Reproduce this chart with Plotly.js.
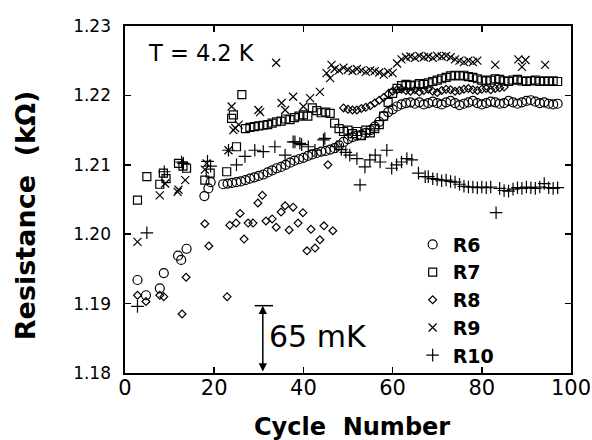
<!DOCTYPE html>
<html>
<head>
<meta charset="utf-8">
<script src="https://cdn.plot.ly/plotly-3.0.1.min.js"></script>
<style>html,body{margin:0;padding:0;background:#fff;}</style>
</head>
<body>
<div id="chart" style="width:592px;height:440px;"></div>
<script>
// ---- data ----
const seriesNames = ["R6", "R7", "R8", "R9", "R10"];

const r6x = [2.8,4.7,7.8,8.7,11.9,12.6,13.8,17.8,18.7,19.2,
  22,23,24,25,26,27,28,29,30,31,32,33,34,35,36,37,38,39,40,41,42,43,44,45,46,47,48,49,50,51,52,53,54,55,56,57,58,59,
  60,61,62,63,64,65,66,67,68,69,70,71,72,73,74,75,76,77,78,79,80,81,82,83,84,85,86,87,88,89,90,91,92,93,94,95,96,97];
const r6y = [1.1934,1.1912,1.1922,1.1944,1.1969,1.1963,1.1979,1.2055,1.2066,1.2075,
  1.2072,1.2073,1.2074,1.2075,1.2076,1.2078,1.2080,1.2082,1.2084,1.2086,1.2089,1.2092,1.2095,1.2097,1.2100,1.2103,1.2106,1.2108,
  1.2110,1.2113,1.2115,1.2117,1.2119,1.2120,1.2122,1.2124,1.2128,1.2133,1.2137,1.2140,1.2142,1.2143,1.2146,1.2150,1.2155,1.2162,
  1.2170,1.2176,1.2180,1.2184,1.2187,1.2189,1.2190,1.2188,1.2190,1.2187,1.2189,1.2191,1.2189,1.2187,1.2190,1.2192,1.2189,1.2186,
  1.2188,1.2190,1.2192,1.2189,1.2187,1.2189,1.2191,1.2190,1.2188,1.2189,1.2192,1.2190,1.2188,1.2190,1.2192,1.2193,1.2191,1.2189,
  1.2190,1.2188,1.2187,1.2188];

const r7x = [2.8,4.9,7.8,8.6,9.2,12.0,13.0,13.8,17.9,19.1,22.8,23.9,24.3,25.0,26.2,
  27,28,29,30,31,32,33,34,35,36,37,38,39,40,41,42,43,44,45,46,47,48,49,50,51,52,53,54,55,56,57,58,59,
  60,61,62,63,64,65,66,67,68,69,70,71,72,73,74,75,76,77,78,79,80,81,82,83,84,85,86,87,88,89,90,91,92,93,94,95,96,97];
const r7y = [1.2049,1.2083,1.2072,1.2088,1.2080,1.2102,1.2098,1.2095,1.2078,1.2088,1.2090,1.2167,1.2172,1.2126,1.2201,
  1.2152,1.2154,1.2155,1.2156,1.2157,1.2158,1.2160,1.2162,1.2163,1.2166,1.2165,1.2168,1.2170,1.2172,1.2170,1.2182,1.2178,1.2175,
  1.2176,1.2174,1.2160,1.2152,1.2148,1.2150,1.2145,1.2148,1.2142,1.2150,1.2146,1.2152,1.2158,1.2170,1.2190,
  1.2203,1.2210,1.2214,1.2216,1.2214,1.2215,1.2217,1.2216,1.2218,1.2220,1.2222,1.2224,1.2226,1.2228,1.2229,1.2228,1.2229,1.2227,
  1.2226,1.2224,1.2222,1.2221,1.2222,1.2224,1.2223,1.2221,1.2220,1.2222,1.2223,1.2221,1.2220,1.2221,1.2222,1.2220,1.2221,1.2220,
  1.2221,1.2220];

const r8x = [2.8,4.7,7.8,8.7,12.8,13.7,17.9,18.8,22.9,23.5,24.9,25.8,26.7,27.6,28.7,29.8,30.8,31.6,33.0,33.9,35.0,35.9,36.8,
  37.7,38.8,39.9,40.8,41.7,42.6,43.7,44.6,45.5,46.6,
  49,50,51,52,53,54,55,56,57,58,59,60,61,62,63,64,65,66,67,68,69,70,71,72,73,74,75,76,77,78,79,80,81,82,83,84,85];
const r8y = [1.1912,1.1903,1.1912,1.1910,1.1885,1.1938,1.2015,1.1983,1.1910,1.2013,1.2016,1.2030,1.1993,1.2016,1.2016,1.2045,
  1.2056,1.2019,1.2022,1.2010,1.2032,1.2041,1.2006,1.2039,1.2016,1.2031,1.1976,1.2007,1.1980,1.1992,1.2012,1.2100,1.2005,
  1.2182,1.2180,1.2179,1.2179,1.2181,1.2183,1.2185,1.2189,1.2193,1.2197,1.2202,1.2206,1.2208,1.2209,1.2207,1.2206,1.2208,1.2205,
  1.2207,1.2209,1.2206,1.2204,1.2207,1.2209,1.2208,1.2206,1.2207,1.2209,1.2210,1.2208,1.2207,1.2209,1.2210,1.2208,1.2210,1.2211,
  1.2212];

const r9x = [2.8,7.8,9.0,11.8,12.0,13.5,17.9,18.3,23.2,23.9,24.3,24.7,25.5,29.9,30.3,33.9,35.1,35.9,37.7,40.0,41.5,43.7,45.2,46.0,46.3,
  47,48,49,50,51,52,53,54,55,56,57,58,59,60,61,62,63,64,65,66,67,68,69,70,71,72,73,74,75,76,77,78,79,
  83.0,88.2,89.0,89.8,94.2];
const r9y = [1.1989,1.2056,1.2073,1.2061,1.2064,1.2078,1.2093,1.2102,1.2121,1.2184,1.2150,1.2153,1.2158,1.2179,1.2176,1.2247,
  1.2189,1.2179,1.2198,1.2184,1.2196,1.2205,1.2232,1.2225,1.2244,
  1.2238,1.2236,1.2240,1.2237,1.2235,1.2238,1.2236,1.2234,1.2236,1.2235,1.2233,1.2230,1.2234,1.2232,1.2246,1.2252,1.2255,1.2256,
  1.2254,1.2257,1.2255,1.2256,1.2254,1.2257,1.2256,1.2257,1.2255,1.2252,1.2250,1.2248,1.2250,1.2248,1.2250,
  1.2244,1.2252,1.2241,1.2251,1.2244];

const r10x = [2.8,4.9,8.8,12.7,13.1,18.5,19.2,23.2,25.0,26.9,29.1,31.0,33.6,35.9,37.7,38.1,39.2,39.6,41.1,42.6,44.5,44.8,
  47.5,48.5,49.5,50.4,52.0,52.7,53.8,54.9,56.1,57.2,58.7,59.8,60.9,62.0,63.2,64.3,65.8,67.3,
  68,69,70,71,72,73,74,75,76,77,78,79,80,81,82,83.2,84,85,86,87,88,89,90,91,92,93,94,95,96,97];
const r10y = [1.1896,1.2002,1.2090,1.2104,1.2102,1.2105,1.2098,1.2121,1.2100,1.2112,1.2121,1.2119,1.2126,1.2114,1.2133,1.2133,
  1.2131,1.2129,1.2126,1.2121,1.2136,1.2138,
  1.2126,1.2122,1.2118,1.2114,1.2109,1.2071,1.2097,1.2107,1.2114,1.2104,1.2121,1.2095,1.2100,1.2104,1.2109,1.2107,1.2088,1.2083,
  1.2083,1.2080,1.2079,1.2077,1.2078,1.2076,1.2075,1.2072,1.2069,1.2068,1.2068,1.2067,1.2068,1.2067,1.2068,1.2031,
  1.2066,1.2063,1.2062,1.2065,1.2067,1.2066,1.2068,1.2067,1.2066,1.2068,1.2073,1.2067,1.2066,1.2067];

const xTicks = [0, 20, 40, 60, 80, 100];
const yTicks = [1.18, 1.19, 1.20, 1.21, 1.22, 1.23];
const tempLabel = "T = 4.2 K";
const gapLabel = "65 mK";
const gapTop = 1.1897;

// ---- styling ----
const F = "DejaVu Sans";
const mk = (sym, size) => ({symbol: sym, size: size, color: "#000", line: {color: "#000", width: 1.2}});
const traces = [
  {x: r6x, y: r6y, name: seriesNames[0], marker: mk("circle-open", 9)},
  {x: r7x, y: r7y, name: seriesNames[1], marker: mk("square-open", 8)},
  {x: r8x, y: r8y, name: seriesNames[2], marker: mk("diamond-open", 6)},
  {x: r9x, y: r9y, name: seriesNames[3], marker: mk("x-thin-open", 8)},
  {x: r10x, y: r10y, name: seriesNames[4], marker: mk("cross-thin-open", 9)}
].map(t => Object.assign({type: "scatter", mode: "markers", cliponaxis: false}, t));

const axisCommon = {
  showline: true, linecolor: "#000", linewidth: 1.6, mirror: "ticks",
  ticks: "inside", ticklen: 6, tickwidth: 1.5, tickcolor: "#000",
  showgrid: false, zeroline: false, fixedrange: true
};

const layout = {
  width: 592, height: 440,
  margin: {l: 125, r: 21, t: 26, b: 67},
  paper_bgcolor: "#fff", plot_bgcolor: "#fff",
  font: {family: F, color: "#000"},
  xaxis: Object.assign({}, axisCommon, {
    range: [0, 100], tickvals: xTicks, ticktext: xTicks.map(String),
    tickfont: {family: F, size: 21, color: "#000"}, ticklabelstandoff: -5
  }),
  yaxis: Object.assign({}, axisCommon, {
    range: [1.18, 1.23], tickvals: yTicks, ticktext: yTicks.map(v => v.toFixed(2)),
    tickfont: {family: F, size: 17, color: "#000"}, ticklabelstandoff: 9
  }),
  showlegend: true,
  legend: {
    x: 0.645, y: 0.425, xanchor: "left", yanchor: "top",
    bgcolor: "rgba(0,0,0,0)", borderwidth: 0,
    font: {family: F, size: 19, color: "#000", weight: 700},
    itemwidth: 30, tracegroupgap: 0
  },
  shapes: [
    {type: "line", xref: "x", yref: "y", x0: 29.1, x1: 33.2, y0: gapTop, y1: gapTop, line: {color: "#000", width: 1.5}}
  ],
  annotations: [
    {xref: "x", yref: "y", x: 30.9, y: gapTop, axref: "x", ayref: "y", ax: 30.9, ay: 1.18,
     text: "", showarrow: true, arrowhead: 2, arrowside: "end+start", arrowsize: 1.1, arrowwidth: 1.5,
     arrowcolor: "#000", standoff: 0, startstandoff: 0},
    {xref: "x", yref: "y", x: 31.8, y: 1.1852, xanchor: "left", yanchor: "middle", showarrow: false,
     text: gapLabel, font: {family: F, size: 30, color: "#000"}},
    {xref: "x", yref: "y", x: 4.6, y: 1.2261, xanchor: "left", yanchor: "middle", showarrow: false,
     text: tempLabel, font: {family: F, size: 22.5, color: "#000"}},
    {xref: "paper", yref: "paper", x: 0.509, y: -0.156, xanchor: "center", yanchor: "middle", showarrow: false,
     text: "Cycle\u00a0\u00a0Number", font: {family: F, size: 24, color: "#000", weight: 700}},
    {xref: "paper", yref: "paper", x: -0.224, y: 0.455, xanchor: "center", yanchor: "middle", showarrow: false,
     textangle: -90, text: "Resistance\u00a0\u00a0(k\u03a9)", font: {family: F, size: 27, color: "#000", weight: 700}}
  ]
};

Plotly.newPlot("chart", traces, layout, {displayModeBar: false, staticPlot: true});
</script>
</body>
</html>
